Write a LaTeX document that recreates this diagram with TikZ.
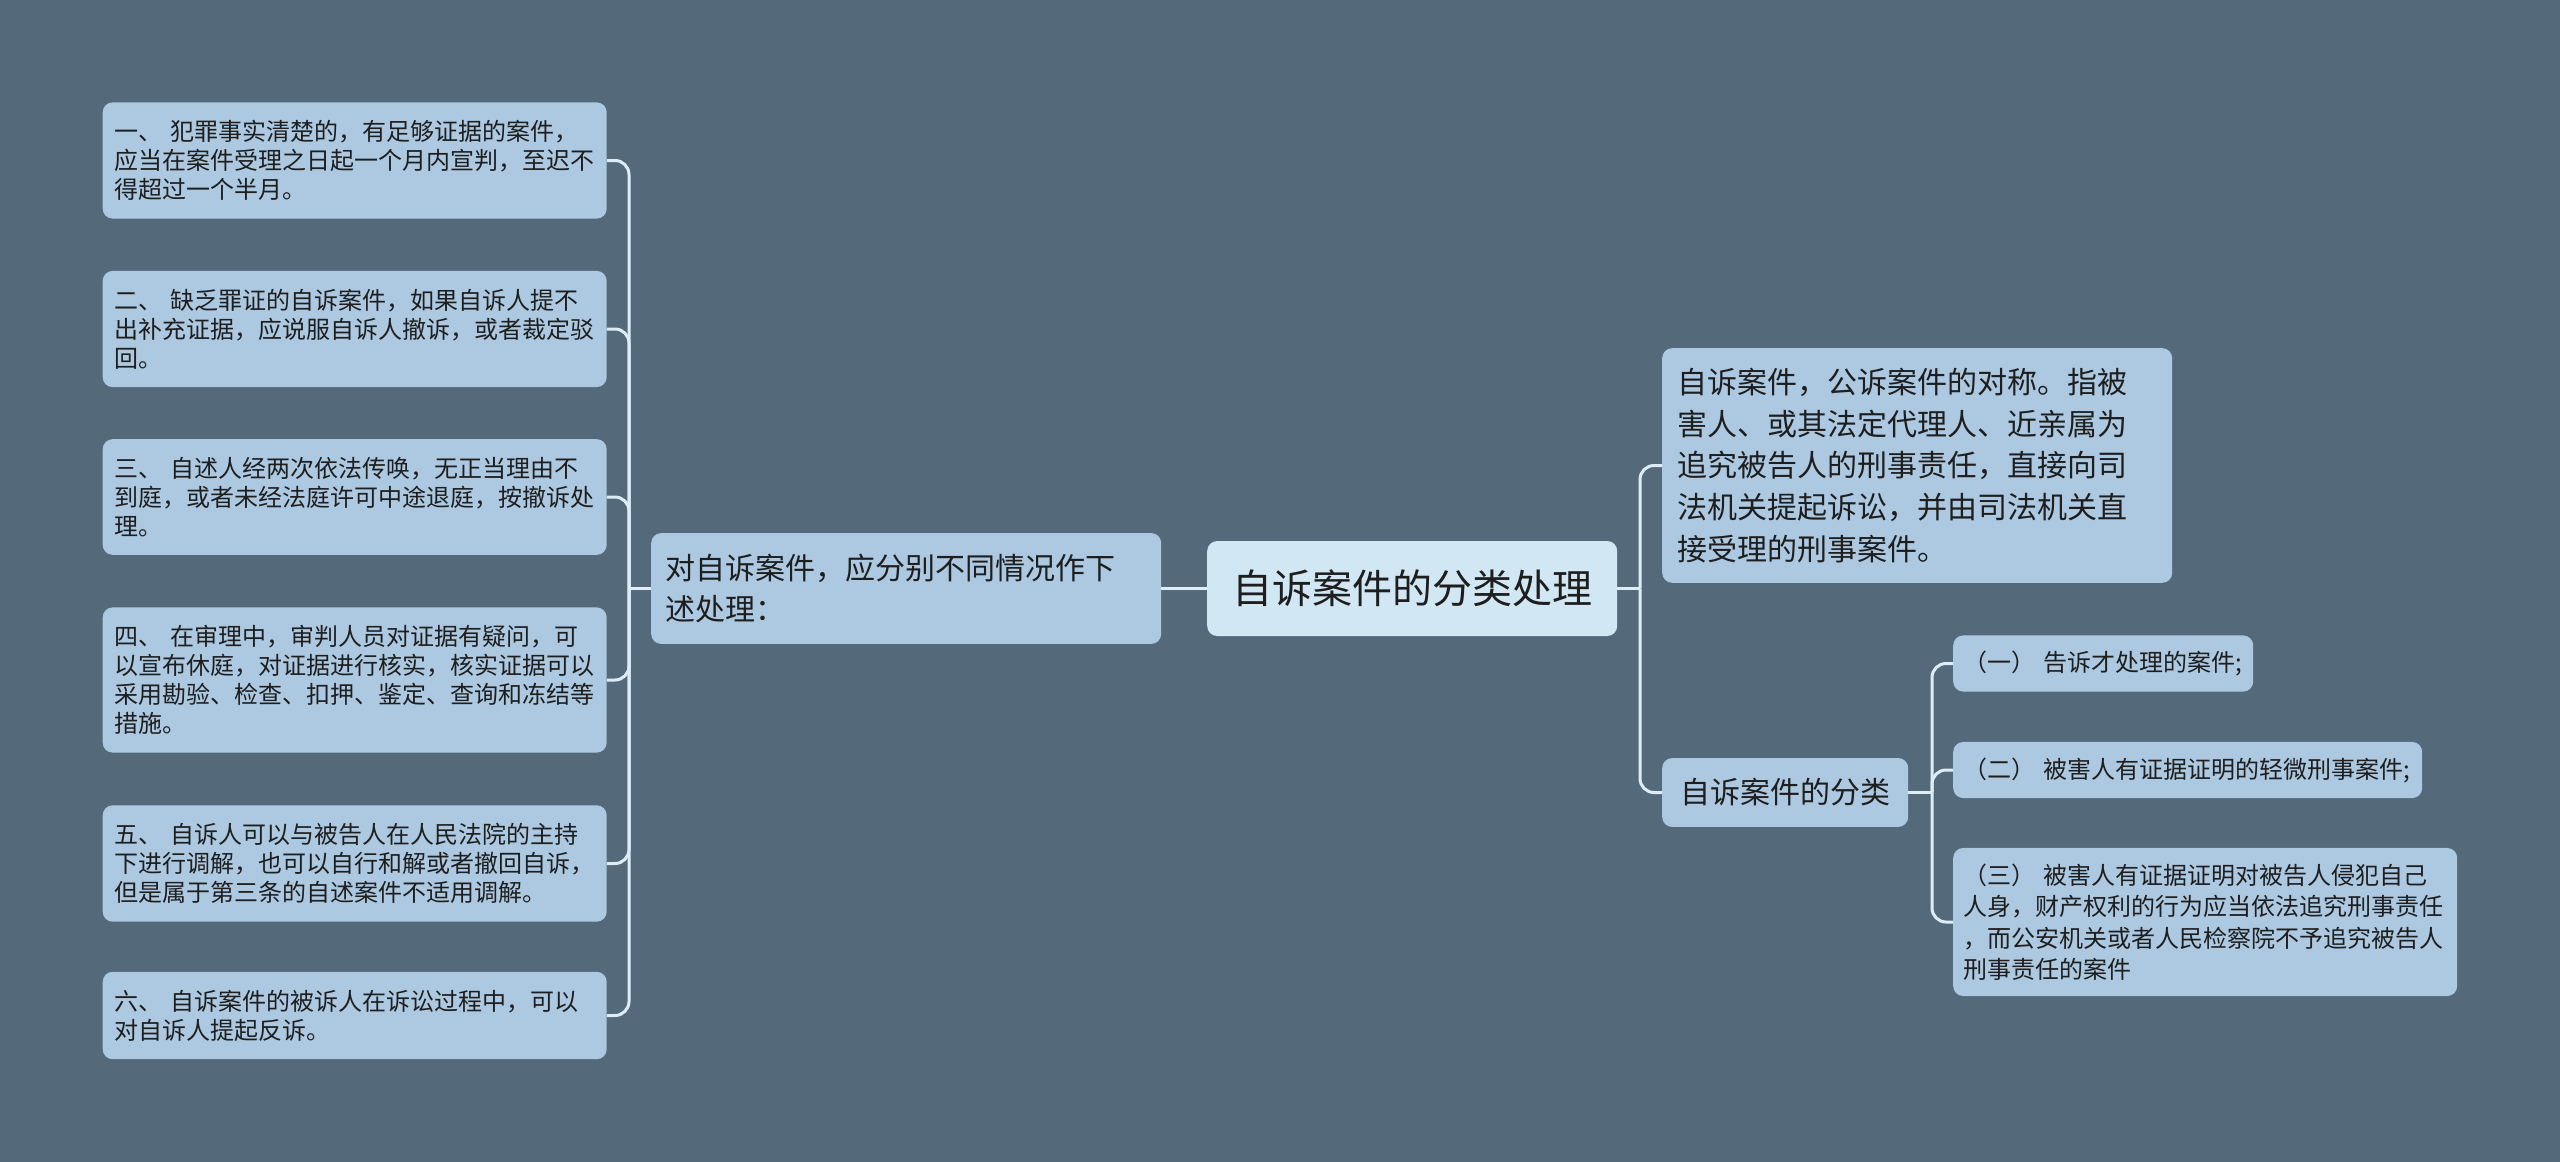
\documentclass[tikz,border=0pt]{standalone}
\usepackage{fontspec}
\setmainfont{Noto Sans CJK SC}
\usetikzlibrary{positioning}

\definecolor{bgslate}{HTML}{546A7B}
\definecolor{leafblue}{HTML}{ACC9E1}
\definecolor{rootblue}{HTML}{D1E7F3}
\definecolor{linkcol}{HTML}{DCEDF7}
\definecolor{inkcol}{HTML}{1E1E1E}

\begin{document}
\begin{tikzpicture}[x=1pt,y=-1pt]
\tikzstyle{every node}+=[inner sep=0pt, text=inkcol]
\tikzstyle{box}=[fill=leafblue, rounded corners=10pt, align=left, anchor=west]
\tikzstyle{leaf}=[box, font=\fontsize{24}{29}\selectfont, text width=480pt, inner xsep=12pt, inner ysep=18pt]
\tikzstyle{mid}=[box, font=\fontsize{30}{41}\selectfont, inner ysep=21pt]
\tikzstyle{sub}=[box, font=\fontsize{24}{31.5}\selectfont, inner xsep=10pt, inner ysep=15.5pt]
\tikzstyle{link}=[draw=linkcol, line width=3pt, rounded corners=14pt]
\path [use as bounding box, fill=bgslate] (0,0) rectangle (2560,1162);
\node [box, fill=rootblue, align=center, font=\fontsize{40}{48}\selectfont, minimum width=410pt, minimum height=95pt] (root) at (1207,588.5) {自诉案件的分类处理};
\node [mid, text width=482pt, inner xsep=14pt] (ways) at (651,588.5) {对自诉案件，应分别不同情况作下\\述处理：};
\node [leaf] (w1) at (102.5,160.5) {一、 犯罪事实清楚的，有足够证据的案件，\\应当在案件受理之日起一个月内宣判，至迟不\\得超过一个半月。};
\node [leaf] (w2) at (102.5,329) {二、 缺乏罪证的自诉案件，如果自诉人提不\\出补充证据，应说服自诉人撤诉，或者裁定驳\\回。};
\node [leaf] (w3) at (102.5,497) {三、 自述人经两次依法传唤，无正当理由不\\到庭，或者未经法庭许可中途退庭，按撤诉处\\理。};
\node [leaf] (w4) at (102.5,680) {四、 在审理中，审判人员对证据有疑问，可\\以宣布休庭，对证据进行核实，核实证据可以\\采用勘验、检查、扣押、鉴定、查询和冻结等\\措施。};
\node [leaf] (w5) at (102.5,863.5) {五、 自诉人可以与被告人在人民法院的主持\\下进行调解，也可以自行和解或者撤回自诉，\\但是属于第三条的自述案件不适用调解。};
\node [leaf] (w6) at (102.5,1015.5) {六、 自诉案件的被诉人在诉讼过程中，可以\\对自诉人提起反诉。};
\node [mid, font=\fontsize{30}{41.7}\selectfont, text width=480pt, inner xsep=15pt, inner ysep=20pt] (defn) at (1662,465.5) {自诉案件，公诉案件的对称。指被\\害人、或其法定代理人、近亲属为\\追究被告人的刑事责任，直接向司\\法机关提起诉讼，并由司法机关直\\接受理的刑事案件。};
\node [mid, text width=210pt, inner xsep=18pt, inner ysep=20.5pt] (kinds) at (1662,792.5) {自诉案件的分类};
\node [sub, text width=280pt] (k1) at (1953,663.5) {（一） 告诉才处理的案件;};
\node [sub, text width=449pt] (k2) at (1953,770) {（二） 被害人有证据证明的轻微刑事案件;};
\node [sub, text width=484pt] (k3) at (1953,922) {（三） 被害人有证据证明对被告人侵犯自己\\人身，财产权利的行为应当依法追究刑事责任\\，而公安机关或者人民检察院不予追究被告人\\刑事责任的案件};
\coordinate (wtrunk) at (629,588.5);
\coordinate (rtrunk) at (1640,588.5);
\coordinate (ktrunk) at (1932,792.5);
\draw [link] (ways.east) -- (root.west);
\draw [link] (ways.west) -- (wtrunk);
\draw [link] (wtrunk) |- (w1.east);
\draw [link] (wtrunk) |- (w2.east);
\draw [link] (wtrunk) |- (w3.east);
\draw [link] (wtrunk) |- (w4.east);
\draw [link] (wtrunk) |- (w5.east);
\draw [link] (wtrunk) |- (w6.east);
\draw [link] (root.east) -- (rtrunk);
\draw [link] (rtrunk) |- (defn.west);
\draw [link] (rtrunk) |- (kinds.west);
\draw [link] (kinds.east) -- (ktrunk);
\draw [link] (ktrunk) |- (k1.west);
\draw [link] (ktrunk) |- (k2.west);
\draw [link] (ktrunk) |- (k3.west);
\end{tikzpicture}
\end{document}
